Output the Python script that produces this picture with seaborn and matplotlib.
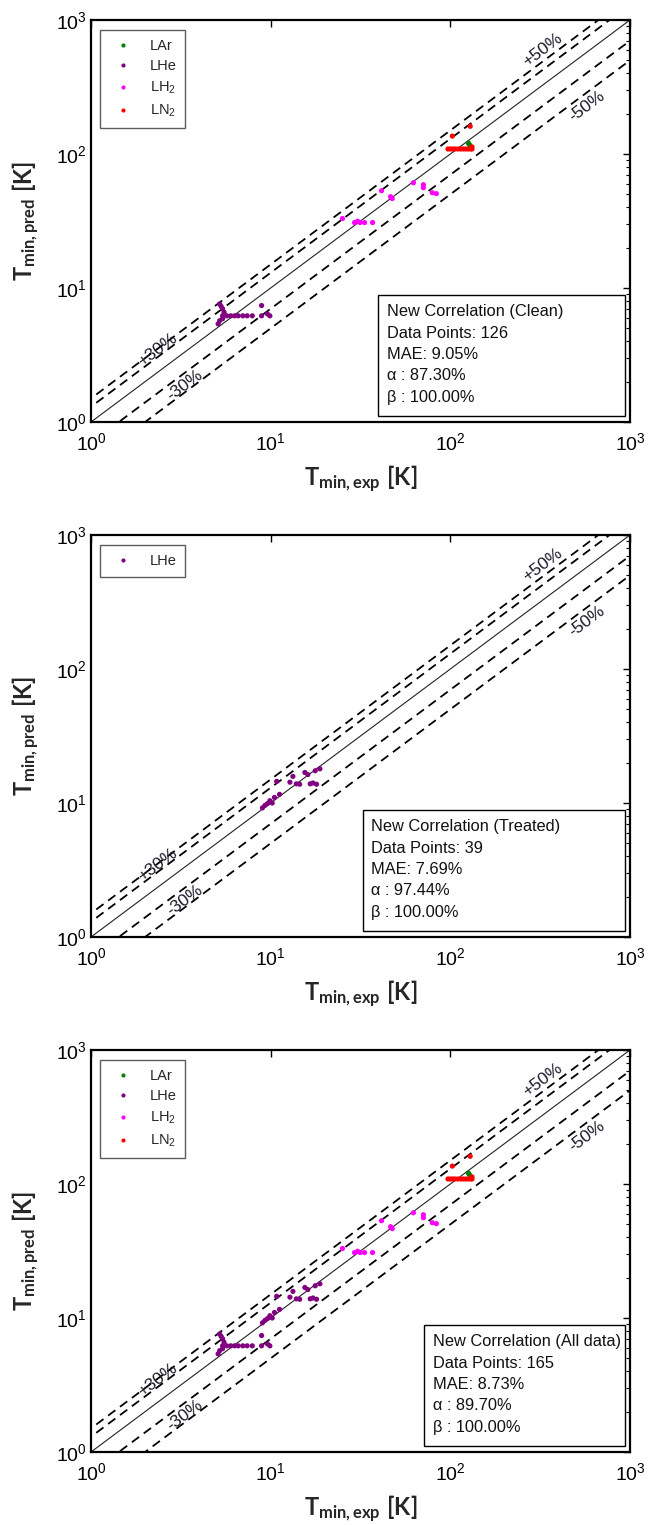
import numpy as np
import pandas as pd
import matplotlib
matplotlib.use("Agg")
import matplotlib.pyplot as plt
import seaborn as sns
from matplotlib.ticker import NullLocator, LogLocator
from matplotlib.patches import Rectangle

# ---------------- data ----------------
fluids = ["LAr", "LHe", "LH$_2$", "LN$_2$"]
fluid_colors = ["#008000", "#800080", "#ff00ff", "#ff0000"]

clean_lar_exp = [126, 128]
clean_lar_pred = [120.6, 117]

clean_lhe_exp = [5.2, 5.3, 5.4, 5.5, 5.4, 5.7, 6.0, 6.3, 6.6, 7.0, 7.4, 7.9, 5.1, 5.2, 5.4, 8.9, 8.9, 9.9, 9.6]
clean_lhe_pred = [7.6, 7.3, 7.0, 6.6, 6.2, 6.2, 6.2, 6.2, 6.2, 6.2, 6.2, 6.2, 5.4, 5.7, 5.9, 7.4, 6.2, 6.2, 6.4]

clean_lh2_exp = [25.1, 29.3, 30.5, 31.5, 33.3, 36.9, 41.4, 46.5, 47.5, 62.3, 70.8, 70.8, 79.4, 83.6]
clean_lh2_pred = [33.0, 30.8, 31.5, 30.8, 30.8, 30.8, 53.2, 48.0, 46.5, 61.0, 59.0, 56.0, 51.4, 50.6]

clean_ln2_exp = [97, 100, 103, 106, 110, 114, 118, 122, 126, 130, 132, 132, 102.6, 129]
clean_ln2_pred = [109, 109, 109, 109, 109, 109, 109, 109, 109, 109, 109, 113, 136, 161]

treated_lhe_exp = [9.0, 9.3, 9.6, 9.9, 10.2, 10.5, 10.8, 11.2, 12.8, 13.3, 13.9, 14.5, 15.5, 16.1, 16.6, 17.2, 17.7, 18.0, 18.8]
treated_lhe_pred = [9.2, 9.6, 9.9, 10.4, 10.0, 11.0, 14.5, 11.6, 14.3, 15.8, 13.9, 13.8, 16.9, 16.3, 13.9, 14.1, 17.4, 13.8, 18.0]

panel_titles = ["New Correlation (Clean)", "New Correlation (Treated)", "New Correlation (All data)"]
n_points = [126, 39, 165]
mae_vals = [9.05, 7.69, 8.73]
alpha_vals = [87.30, 97.44, 89.70]
beta_vals = [100.00, 100.00, 100.00]

band_factors = [1.5, 1.3, 0.7, 0.5]
band_labels = ["+50%", "+30%", "-30%", "-50%"]
band_label_x = [324, 2.33, 3.33, 575]
band_label_y = [603, 3.44, 1.89, 229]

tick_vals = [1, 10, 100, 1000]


def frame(parts):
    rows = []
    for fl, ex, pr in parts:
        for a, b in zip(ex, pr):
            rows.append({"fluid": fl, "exp": a, "pred": b})
    return pd.DataFrame(rows)


df_clean = frame([("LAr", clean_lar_exp, clean_lar_pred),
                  ("LHe", clean_lhe_exp, clean_lhe_pred),
                  ("LH$_2$", clean_lh2_exp, clean_lh2_pred),
                  ("LN$_2$", clean_ln2_exp, clean_ln2_pred)])
df_treated = frame([("LHe", treated_lhe_exp, treated_lhe_pred)])
df_all = pd.concat([df_clean, df_treated], ignore_index=True)

# ---------------- style ----------------
sns.set_theme(style="white")
plt.rcParams["font.family"] = ["Liberation Sans", "DejaVu Sans"]
plt.rcParams["mathtext.fontset"] = "custom"
plt.rcParams["mathtext.rm"] = "Liberation Sans"
plt.rcParams["mathtext.it"] = "Liberation Sans:italic"
plt.rcParams["mathtext.bf"] = "Lato:bold"

fig = plt.figure(figsize=(6.48, 15.25), dpi=100)
W, H = 648, 1525
ax_left, ax_w, ax_h = 91, 539, 402
ax_bottoms = [422, 937, 1452]

palette = dict(zip(fluids, fluid_colors))
datasets = [(df_clean, fluids), (df_treated, ["LHe"]), (df_all, fluids)]
angle = np.degrees(np.arctan(ax_h / ax_w))

for i, (df, order) in enumerate(datasets):
    ax = fig.add_axes([ax_left / W, (H - ax_bottoms[i]) / H, ax_w / W, ax_h / H])
    ax.set_xscale("log")
    ax.set_yscale("log")
    ax.set_xlim(1, 1000)
    ax.set_ylim(1, 1000)

    ax.plot([1, 1000], [1, 1000], color="#222222", lw=0.8, zorder=2)
    for f in band_factors:
        ax.plot([0.5, 2000], [0.5 * f, 2000 * f], color="black", lw=1.3,
                dashes=(5, 3.2), zorder=2)
    for lab, lx, ly in zip(band_labels, band_label_x, band_label_y):
        ax.text(lx, ly, lab, rotation=angle, rotation_mode="anchor",
                ha="center", va="center", fontsize=12.5, color="#1a1a2a", zorder=3)

    sns.scatterplot(data=df, x="exp", y="pred", hue="fluid", hue_order=order,
                    palette=palette, s=14, linewidth=0, ax=ax, zorder=4)

    handles, labels = ax.get_legend_handles_labels()
    leg = ax.legend(handles, labels, loc="upper left", bbox_to_anchor=(0.017, 0.975),
                    frameon=True, fancybox=False, edgecolor="#333333", fontsize=10.5,
                    markerscale=0.8, borderpad=0.6, labelspacing=0.45,
                    handletextpad=0.8, borderaxespad=0)
    leg.get_frame().set_linewidth(1.0)

    # stats box
    box_left = [0.532, 0.505, 0.618][i]
    text_left = [0.549, 0.519, 0.635][i]
    ax.add_patch(Rectangle((box_left, 0.015), 0.991 - box_left, 0.301,
                           transform=ax.transAxes, facecolor="white",
                           edgecolor="black", lw=1.0, zorder=5))
    lines = [panel_titles[i],
             f"Data Points: {n_points[i]}",
             f"MAE: {mae_vals[i]:.2f}%",
             f"\u03b1 : {alpha_vals[i]:.2f}%",
             f"\u03b2 : {beta_vals[i]:.2f}%"]
    for k, t in enumerate(lines):
        ax.text(text_left, 0.274 - k * 0.053, t, transform=ax.transAxes,
                ha="left", va="center", fontsize=11.8, color="#111111", zorder=6)

    ax.set_xticks(tick_vals)
    ax.set_yticks(tick_vals)
    ax.xaxis.set_minor_locator(NullLocator())
    ax.yaxis.set_minor_locator(LogLocator(base=10, subs=np.arange(2, 10)))
    ax.tick_params(which="both", direction="in", top=True, right=True,
                   labelsize=14, colors="black")
    ax.tick_params(which="major", length=5, width=1.0, pad=3)
    ax.tick_params(axis="x", which="major", pad=7)
    ax.tick_params(which="minor", length=3, width=0.8)
    for sp in ax.spines.values():
        sp.set_linewidth(1.6)
        sp.set_color("black")

    ax.set_xlabel(r"$\mathbf{T_{min,exp}}$ $\mathbf{[K]}$", fontsize=17)
    ax.set_ylabel(r"$\mathbf{T_{min,pred}}$ $\mathbf{[K]}$", fontsize=17)
    ax.xaxis.set_label_coords(0.5, -0.105)
    ax.yaxis.set_label_coords(-0.09, 0.5)

fig.savefig("out.png", dpi=100)
